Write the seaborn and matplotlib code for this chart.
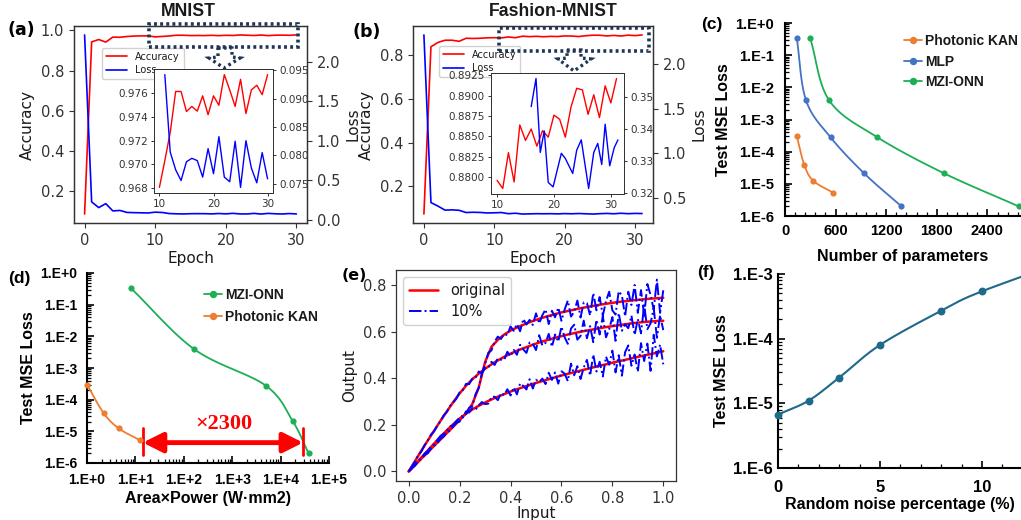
import numpy as np
import matplotlib
matplotlib.use("Agg")
import matplotlib.pyplot as plt
import seaborn as sns
from matplotlib.patches import Rectangle, Polygon
from matplotlib.lines import Line2D
from matplotlib.ticker import MultipleLocator, LogLocator, NullFormatter, FormatStrFormatter

# ---------------- data ----------------
# (a) MNIST
epochs_a = list(range(31))
acc_a = [0.088, 0.943, 0.955, 0.942, 0.967, 0.966, 0.970, 0.972, 0.973, 0.973,
         0.96803, 0.9703, 0.9727, 0.97617, 0.97617, 0.97447, 0.9749, 0.9745, 0.9758, 0.9742,
         0.9758, 0.9750, 0.9776, 0.9763, 0.9749, 0.9772, 0.9743, 0.9763, 0.9767, 0.9759, 0.9776]
loss_a = [2.34, 0.228, 0.156, 0.206, 0.114, 0.120, 0.095, 0.092, 0.090, 0.088, 0.098,
          0.0942, 0.0806, 0.0775, 0.0756, 0.0789, 0.0795, 0.0791, 0.0762, 0.0812, 0.0768,
          0.0833, 0.0762, 0.0754, 0.0825, 0.0744, 0.0826, 0.0778, 0.0752, 0.0805, 0.0759]

# (b) Fashion-MNIST
epochs_b = list(range(32))
acc_b = [0.073, 0.838, 0.858, 0.868, 0.868, 0.863, 0.877, 0.876, 0.877, 0.879,
         0.8796, 0.8786, 0.8830, 0.8794, 0.8864, 0.8845, 0.8859, 0.8838, 0.8857, 0.8849,
         0.8876, 0.8871, 0.8849, 0.8886, 0.8909, 0.8907, 0.8877, 0.8901, 0.8873, 0.8912,
         0.8891, 0.8921]
loss_b = [2.33, 0.447, 0.407, 0.362, 0.365, 0.360, 0.335, 0.338, 0.336, 0.330,
          0.332, 0.335, 0.322, 0.327, 0.318, 0.320, 0.322, 0.321, 0.322, 0.320,
          0.323, 0.321, 0.324, 0.321, 0.318, 0.322, 0.325, 0.321, 0.327, 0.322,
          0.325, 0.324]
inset_loss_b_x = [16.0, 16.85, 17.6, 18.3, 19.0, 19.85, 21.3, 22.0, 23.3, 24.0,
                  24.8, 26.1, 27.0, 27.7, 28.4, 29.0, 29.8, 30.6, 31.25]
inset_loss_b = [0.3470, 0.3558, 0.3327, 0.3394, 0.3233, 0.3219, 0.3324, 0.3308, 0.3261, 0.3334,
                0.3366, 0.3214, 0.3327, 0.3355, 0.3289, 0.3415, 0.3285, 0.3342, 0.3366]

# (c) test loss vs number of parameters
params_kan = [140, 230, 335, 575]
mse_kan = [3.0e-4, 3.8e-5, 1.25e-5, 5.2e-6]
params_mlp = [140, 250, 540, 940, 1380]
mse_mlp = [0.33, 3.9e-3, 2.8e-4, 2.1e-5, 2.0e-6]
params_mzi = [300, 525, 1095, 1890, 2770]
mse_mzi = [0.33, 3.9e-3, 2.8e-4, 2.1e-5, 2.0e-6]
c_xticks = [0, 600, 1200, 1800, 2400]
log_ticks_c = [1e0, 1e-1, 1e-2, 1e-3, 1e-4, 1e-5, 1e-6]
log_labels_c = ["1.E+0", "1.E-1", "1.E-2", "1.E-3", "1.E-4", "1.E-5", "1.E-6"]

# (d) test loss vs area x power
ap_mzi = [8.1, 165, 4900, 17800, 38000]
ap_kan = [1.0, 2.2, 4.5, 12.5]
d_xticks = [1e0, 1e1, 1e2, 1e3, 1e4, 1e5]
d_xlabels = ["1.E+0", "1.E+1", "1.E+2", "1.E+3", "1.E+4", "1.E+5"]

# (e) input/output curves, original and with 10% noise
x_red = np.linspace(0, 1, 41)
red_T = [0.000, 0.027, 0.055, 0.082, 0.110, 0.137, 0.165, 0.192, 0.220, 0.250,
         0.290, 0.360, 0.470, 0.535, 0.565, 0.588, 0.605, 0.618, 0.630, 0.641,
         0.651, 0.660, 0.668, 0.676, 0.683, 0.689, 0.695, 0.701, 0.706, 0.711,
         0.716, 0.720, 0.724, 0.728, 0.731, 0.734, 0.737, 0.740, 0.742, 0.744, 0.746]
red_M = [0.000, 0.045, 0.090, 0.133, 0.175, 0.218, 0.258, 0.298, 0.335, 0.368,
         0.396, 0.420, 0.441, 0.460, 0.477, 0.492, 0.506, 0.518, 0.529, 0.539,
         0.549, 0.558, 0.566, 0.574, 0.581, 0.588, 0.594, 0.600, 0.605, 0.610,
         0.615, 0.620, 0.624, 0.628, 0.632, 0.636, 0.639, 0.642, 0.644, 0.646, 0.647]
red_B = [0.000, 0.030, 0.060, 0.090, 0.120, 0.149, 0.177, 0.203, 0.227, 0.248,
         0.266, 0.282, 0.296, 0.309, 0.321, 0.332, 0.343, 0.353, 0.362, 0.371,
         0.380, 0.388, 0.396, 0.404, 0.412, 0.419, 0.426, 0.433, 0.440, 0.447,
         0.454, 0.460, 0.467, 0.473, 0.479, 0.486, 0.492, 0.498, 0.504, 0.510, 0.516]
x_noisy = np.linspace(0, 1, 81)
blue_T = [0.000, 0.015, 0.025, 0.044, 0.054, 0.071, 0.078, 0.098, 0.110, 0.121,
          0.141, 0.150, 0.167, 0.175, 0.193, 0.209, 0.214, 0.245, 0.246, 0.273,
          0.281, 0.331, 0.359, 0.423, 0.460, 0.509, 0.520, 0.558, 0.579, 0.569,
          0.591, 0.585, 0.623, 0.604, 0.633, 0.602, 0.655, 0.631, 0.651, 0.629,
          0.679, 0.635, 0.671, 0.696, 0.633, 0.690, 0.662, 0.704, 0.647, 0.695,
          0.734, 0.665, 0.686, 0.734, 0.661, 0.726, 0.723, 0.670, 0.766, 0.692,
          0.749, 0.669, 0.731, 0.772, 0.692, 0.674, 0.774, 0.756, 0.666, 0.772,
          0.715, 0.801, 0.681, 0.779, 0.668, 0.805, 0.758, 0.695, 0.824, 0.681,
          0.778]
blue_M = [0.000, 0.022, 0.042, 0.070, 0.086, 0.113, 0.132, 0.158, 0.173, 0.197,
          0.215, 0.241, 0.256, 0.282, 0.296, 0.313, 0.340, 0.349, 0.376, 0.375,
          0.399, 0.402, 0.429, 0.421, 0.444, 0.445, 0.471, 0.457, 0.486, 0.480,
          0.479, 0.514, 0.494, 0.522, 0.501, 0.544, 0.524, 0.509, 0.554, 0.549,
          0.521, 0.585, 0.541, 0.552, 0.591, 0.535, 0.588, 0.557, 0.622, 0.576,
          0.548, 0.614, 0.630, 0.566, 0.582, 0.648, 0.572, 0.624, 0.555, 0.651,
          0.588, 0.667, 0.576, 0.611, 0.663, 0.561, 0.680, 0.604, 0.632, 0.615,
          0.669, 0.586, 0.655, 0.593, 0.714, 0.611, 0.636, 0.701, 0.574, 0.671,
          0.607]
blue_B = [0.000, 0.013, 0.031, 0.049, 0.056, 0.077, 0.088, 0.108, 0.117, 0.135,
          0.153, 0.161, 0.176, 0.193, 0.199, 0.217, 0.230, 0.231, 0.258, 0.253,
          0.272, 0.265, 0.284, 0.298, 0.289, 0.291, 0.320, 0.321, 0.306, 0.336,
          0.328, 0.353, 0.326, 0.361, 0.331, 0.378, 0.367, 0.352, 0.396, 0.356,
          0.394, 0.384, 0.399, 0.375, 0.424, 0.393, 0.425, 0.377, 0.430, 0.420,
          0.388, 0.463, 0.413, 0.452, 0.397, 0.446, 0.479, 0.411, 0.502, 0.429,
          0.471, 0.408, 0.493, 0.458, 0.519, 0.425, 0.499, 0.411, 0.512, 0.541,
          0.454, 0.502, 0.428, 0.551, 0.474, 0.549, 0.432, 0.587, 0.494, 0.545,
          0.460]

# (f) test loss vs random noise percentage
noise_pct = [0, 1.5, 3, 5, 8, 10, 15]
mse_noise = [6.7e-6, 1.1e-5, 2.5e-5, 8.0e-5, 2.7e-4, 5.4e-4, 2.0e-3]
f_yticks = [1e-3, 1e-4, 1e-5, 1e-6]
f_ylabels = ["1.E-3", "1.E-4", "1.E-5", "1.E-6"]

# ---------------- style ----------------
sns.set_theme(style="ticks")
plt.rcParams.update({
    "font.family": ["DejaVu Sans"],
    "axes.edgecolor": "#333333",
    "axes.linewidth": 0.9,
    "xtick.color": "#333333",
    "ytick.color": "#333333",
    "text.color": "#1a1a1a",
    "axes.labelcolor": "#1a1a1a",
})

W, H, DPI = 1021, 520, 100
fig = plt.figure(figsize=(W / DPI, H / DPI), dpi=DPI)


def rect(l, t, r, b):
    return [l / W, 1 - b / H, (r - l) / W, (b - t) / H]


def fp(x, y):
    return (x / W, 1 - y / H)


def smooth_path(xs, ys, xscale, yscale, xlog=False, ylog=True, n=30):
    X = np.log10(xs) if xlog else np.asarray(xs, float)
    Y = np.log10(ys) if ylog else np.asarray(ys, float)
    P = np.column_stack([X * xscale, Y * yscale])
    P = np.vstack([2 * P[0] - P[1], P, 2 * P[-1] - P[-2]])
    t = np.linspace(0, 1, n, endpoint=False)[:, None]
    segs = []
    for i in range(1, len(P) - 2):
        p0, p1, p2, p3 = P[i - 1], P[i], P[i + 1], P[i + 2]
        segs.append(0.5 * (2 * p1 + (p2 - p0) * t + (2 * p0 - 5 * p1 + 4 * p2 - p3) * t ** 2
                           + (3 * p1 - p0 - 3 * p2 + p3) * t ** 3))
    segs.append(P[-2][None, :])
    S = np.vstack(segs)
    sx, sy = S[:, 0] / xscale, S[:, 1] / yscale
    if xlog:
        sx = 10 ** sx
    if ylog:
        sy = 10 ** sy
    return sx, sy


TICK = 10.5
LAB = 11
NAVY = "#1F3556"
BOLDF = "Liberation Sans"


def style_main(ax):
    ax.tick_params(labelsize=TICK, length=3.5, width=0.8)


def train_panel(box, inset_box, ep, acc, loss, ep_in_acc, acc_in, ep_in_loss, loss_in,
                leg_anchor, acc_fmt, loss_fmt, acc_ticks, loss_ticks):
    ax = fig.add_axes(rect(*box))
    sns.lineplot(x=ep, y=acc, ax=ax, color="red", lw=1.2)
    ax2 = ax.twinx()
    sns.lineplot(x=ep, y=loss, ax=ax2, color="blue", lw=1.2)
    ax.set_xticks([0, 10, 20, 30])
    ax.set_xlabel("Epoch", fontsize=LAB, labelpad=2)
    ax.set_ylabel("Accuracy", fontsize=LAB)
    ax2.set_ylabel("Loss", fontsize=LAB)
    style_main(ax)
    style_main(ax2)
    handles = [Line2D([], [], color="red", lw=1.2, label="Accuracy"),
               Line2D([], [], color="blue", lw=1.2, label="Loss")]
    ax2.legend(handles=handles, loc="upper left", bbox_to_anchor=leg_anchor, fontsize=7,
               frameon=True, borderaxespad=0, handlelength=2.2, labelspacing=0.35,
               framealpha=0.9, edgecolor="#cccccc")
    axi = fig.add_axes(rect(*inset_box))
    sns.lineplot(x=ep_in_acc, y=acc_in, ax=axi, color="red", lw=1.0)
    axi2 = axi.twinx()
    sns.lineplot(x=ep_in_loss, y=loss_in, ax=axi2, color="blue", lw=1.0)
    axi.set_xticks([10, 20, 30])
    axi.set_yticks(acc_ticks)
    axi2.set_yticks(loss_ticks)
    axi.yaxis.set_major_formatter(FormatStrFormatter(acc_fmt))
    axi2.yaxis.set_major_formatter(FormatStrFormatter(loss_fmt))
    for a in (axi, axi2):
        a.tick_params(labelsize=7.5, length=2.5, width=0.7, pad=2)
        for s in a.spines.values():
            s.set_linewidth(0.7)
    return ax, ax2


# (a)
train_panel((74, 26, 307, 223), (154, 69, 273, 193), epochs_a, acc_a, loss_a,
            epochs_a[10:], acc_a[10:], epochs_a[11:], loss_a[11:], (0.12, 0.89),
            "%.3f", "%.3f", [0.968, 0.970, 0.972, 0.974, 0.976],
            [0.075, 0.080, 0.085, 0.090, 0.095])
# (b)
train_panel((413, 26, 653, 223), (491, 73, 624, 194), epochs_b, acc_b, loss_b,
            epochs_b[10:], acc_b[10:], inset_loss_b_x, inset_loss_b, (0.108, 0.9),
            "%.4f", "%.2f", [0.8800, 0.8825, 0.8850, 0.8875, 0.8900, 0.8925],
            [0.32, 0.33, 0.34, 0.35])

# dotted zoom rectangles and arrows
for (x0, y0, x1, y1) in [(149, 24, 298, 47), (499, 27.5, 649, 50.5)]:
    (fx0, fy1), (fx1, fy0) = fp(x0, y1), fp(x1, y0)
    fig.patches.append(Rectangle((fx0, fy1), fx1 - fx0, fy0 - fy1, transform=fig.transFigure,
                                 fill=False, edgecolor=NAVY, lw=2.6, linestyle=(0, (0.8, 0.9)),
                                 zorder=10))
for pts in [[(218, 48), (232, 48), (232, 57), (240, 58), (224, 68), (209, 58), (218, 57)],
            [(567, 50), (581, 50), (581, 58), (591, 59), (574, 71), (558, 59), (567, 58)]]:
    fig.patches.append(Polygon([fp(*p) for p in pts], closed=True, transform=fig.transFigure,
                               fill=False, edgecolor=NAVY, lw=2.4, linestyle=(0, (0.8, 1.0)),
                               zorder=10))


def excel_axes(ax):
    for side in ("top", "right"):
        ax.spines[side].set_visible(False)
    for side in ("left", "bottom"):
        ax.spines[side].set_linewidth(1.5)
        ax.spines[side].set_color("black")
    ax.tick_params(which="both", direction="in", color="black")
    ax.tick_params(which="major", length=5, width=1.2)
    ax.tick_params(which="minor", length=3, width=0.9)


def tickfont(size):
    return dict(fontsize=size, fontweight="bold", fontfamily=BOLDF, color="black")


labfont = dict(fontsize=11.5, fontweight="bold", fontfamily=BOLDF, color="black")

C_KAN, C_MLP, C_MZI = "#ED7D31", "#4472C4", "#1CAF55"

# (c)
ax_c = fig.add_axes(rect(785, 23, 1038, 216))
ax_c.set_yscale("log")
for xs, ys, col in [(params_kan, mse_kan, C_KAN), (params_mlp, mse_mlp, C_MLP),
                    (params_mzi, mse_mzi, C_MZI)]:
    sx, sy = smooth_path(xs, ys, 0.0842, 31.67)
    sns.lineplot(x=sx, y=sy, ax=ax_c, color=col, lw=1.3, sort=False, estimator=None)
    sns.scatterplot(x=xs, y=ys, ax=ax_c, color=col, s=20, linewidth=0, zorder=3)
ax_c.set_xlim(0, 3000)
ax_c.set_ylim(1e-6, 1)
excel_axes(ax_c)
ax_c.set_xticks(c_xticks, [str(v) for v in c_xticks], **tickfont(10.5))
ax_c.set_yticks(log_ticks_c, log_labels_c, **tickfont(10.5))
ax_c.yaxis.set_minor_locator(LogLocator(base=10, subs=np.arange(2, 10), numticks=20))
ax_c.yaxis.set_minor_formatter(NullFormatter())
ax_c.xaxis.set_minor_locator(MultipleLocator(120))
ax_c.tick_params(axis="y", which="major", pad=8)
ax_c.tick_params(axis="x", which="major", pad=6)
ax_c.set_xlabel("Number of parameters", **labfont)
ax_c.set_ylabel("Test MSE Loss", labelpad=3, **labfont)
ax_c.xaxis.set_label_coords((903 - 785) / 253, -0.17)
h_c = [Line2D([], [], color=c, marker="o", ms=4.3, lw=1.3, label=l)
       for c, l in [(C_KAN, "Photonic KAN"), (C_MLP, "MLP"), (C_MZI, "MZI-ONN")]]
ax_c.legend(handles=h_c, loc="upper left", bbox_to_anchor=(0.45, 0.97), frameon=False,
            handlelength=1.3, handletextpad=0.2, labelspacing=0.45, borderaxespad=0,
            prop=dict(family=BOLDF, weight="bold", size=10))

# (d)
ax_d = fig.add_axes(rect(87, 273, 329, 463))
ax_d.set_xscale("log")
ax_d.set_yscale("log")
for xs, ys, col in [(ap_mzi, mse_mzi, C_MZI), (ap_kan, mse_kan, C_KAN)]:
    sx, sy = smooth_path(xs, ys, 48.3, 31.0, xlog=True)
    sns.lineplot(x=sx, y=sy, ax=ax_d, color=col, lw=1.3, sort=False, estimator=None)
    sns.scatterplot(x=xs, y=ys, ax=ax_d, color=col, s=20, linewidth=0, zorder=3, clip_on=False)
ax_d.set_xlim(1, 1e5)
ax_d.set_ylim(1e-6, 1)
excel_axes(ax_d)
ax_d.set_xticks(d_xticks, d_xlabels, **tickfont(10))
ax_d.set_yticks(log_ticks_c, log_labels_c, **tickfont(10))
for axis in (ax_d.xaxis, ax_d.yaxis):
    axis.set_minor_locator(LogLocator(base=10, subs=np.arange(2, 10), numticks=20))
    axis.set_minor_formatter(NullFormatter())
ax_d.tick_params(axis="y", which="major", pad=7)
ax_d.tick_params(axis="x", which="major", pad=7)
ax_d.set_xlabel("Area×Power (W·mm2)", labelpad=3, **labfont)
ax_d.set_ylabel("Test MSE Loss", labelpad=3, **labfont)
h_d = [Line2D([], [], color=c, marker="o", ms=4.3, lw=1.3, label=l)
       for c, l in [(C_MZI, "MZI-ONN"), (C_KAN, "Photonic KAN")]]
ax_d.legend(handles=h_d, loc="upper left", bbox_to_anchor=(0.46, 0.95), frameon=False,
            handlelength=1.3, handletextpad=0.2, labelspacing=0.55, borderaxespad=0,
            prop=dict(family=BOLDF, weight="bold", size=10))
ax_d.plot([14.2, 14.2], [1.26e-5, 1.8e-6], color="red", lw=2)
ax_d.plot([29200, 29200], [1.26e-5, 1.8e-6], color="red", lw=2)
ax_d.annotate("", xy=(29200, 4.4e-6), xytext=(14.2, 4.4e-6),
              arrowprops=dict(arrowstyle="<|-|>,head_length=0.8,head_width=0.4", color="red",
                              lw=3.5, shrinkA=0, shrinkB=0, mutation_scale=15))
ax_d.text(686, 1.7e-5, "×2300", ha="center", va="center", color="red", fontsize=16,
          fontweight="bold", fontfamily="Liberation Serif")

# (e)
ax_e = fig.add_axes(rect(396, 270, 676, 481))
for ys in (red_T, red_M, red_B):
    sns.lineplot(x=x_red, y=ys, ax=ax_e, color="red", lw=1.8)
for ys in (blue_T, blue_M, blue_B):
    sns.lineplot(x=x_noisy, y=ys, ax=ax_e, color="blue", lw=1.4, linestyle="-.")
style_main(ax_e)
ax_e.set_xlabel("Input", fontsize=LAB, labelpad=0)
ax_e.set_ylabel("Output", fontsize=LAB)
h_e = [Line2D([], [], color="red", lw=1.8, label="original"),
       Line2D([], [], color="blue", lw=1.4, linestyle="-.", label="10%")]
ax_e.legend(handles=h_e, loc="upper left", fontsize=10.5, frameon=True, framealpha=0.9,
            edgecolor="#cccccc", labelspacing=0.4)

# (f)
ax_f = fig.add_axes(rect(778, 274, 1040, 468))
ax_f.set_yscale("log")
C_F = "#1E6A8A"
sx, sy = smooth_path(noise_pct, mse_noise, 20.4, 64.3)
sns.lineplot(x=sx, y=sy, ax=ax_f, color=C_F, lw=1.5, sort=False, estimator=None)
sns.scatterplot(x=noise_pct, y=mse_noise, ax=ax_f, color=C_F, s=32, linewidth=0, zorder=3,
                clip_on=False)
ax_f.set_xlim(0, (1040 - 778) / 20.4)
ax_f.set_ylim(1e-6, 1e-3)
excel_axes(ax_f)
ax_f.set_xticks([0, 5, 10], ["0", "5", "10"], **tickfont(12))
ax_f.set_yticks(f_yticks, f_ylabels, **tickfont(12))
ax_f.xaxis.set_minor_locator(MultipleLocator(1))
ax_f.yaxis.set_minor_locator(LogLocator(base=10, subs=np.arange(2, 10), numticks=20))
ax_f.yaxis.set_minor_formatter(NullFormatter())
ax_f.tick_params(axis="y", which="major", pad=4)
ax_f.tick_params(axis="x", which="major", pad=9)
ax_f.set_xlabel("Random noise percentage (%)", **labfont)
ax_f.set_ylabel("Test MSE Loss", labelpad=3, **labfont)
ax_f.xaxis.set_label_coords((900 - 778) / 262, -0.15)

# titles and panel letters
fig.text(*fp(188, 11), "MNIST", ha="center", va="center", fontsize=12.7,
         fontweight="bold", fontfamily=BOLDF)
fig.text(*fp(553, 11), "Fashion-MNIST", ha="center", va="center", fontsize=12.7,
         fontweight="bold", fontfamily=BOLDF)
for lbl, (x, y), fam, fs in [("(a)", (21, 30), "DejaVu Sans", 12.5),
                             ("(b)", (367, 32), "DejaVu Sans", 12.5),
                             ("(c)", (712, 25), BOLDF, 12.5), ("(d)", (19, 278), BOLDF, 12.5),
                             ("(e)", (354, 275), "DejaVu Sans", 11.5),
                             ("(f)", (706, 273), BOLDF, 12.5)]:
    fig.text(*fp(x, y), lbl, ha="center", va="center", fontsize=fs, fontweight="bold",
             fontfamily=fam, color="black")

fig.savefig("out.png", dpi=DPI)
